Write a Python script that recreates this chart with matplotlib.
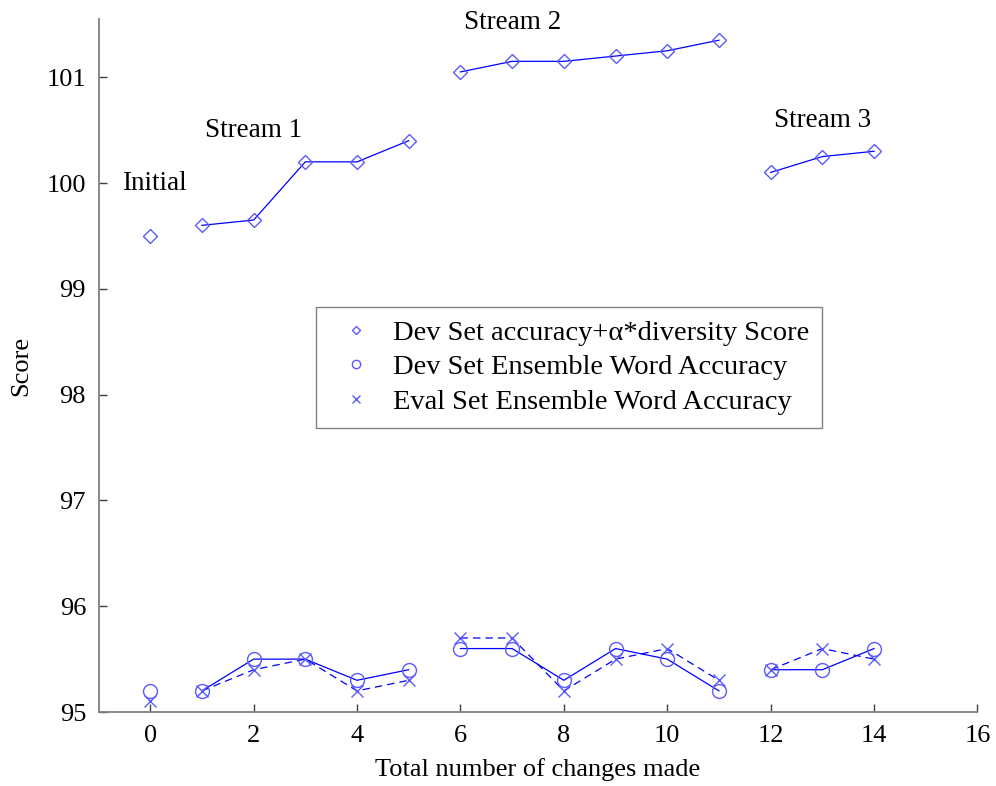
import numpy as np
import matplotlib
matplotlib.use("Agg")
import matplotlib.pyplot as plt

plt.rcParams['font.family'] = ['Liberation Serif', 'DejaVu Serif']

# data
changes = list(range(15))
dev_score = [99.5, 99.6, 99.65, 100.2, 100.2, 100.4,
             101.05, 101.15, 101.15, 101.2, 101.25, 101.35,
             100.1, 100.25, 100.3]
dev_acc = [95.2, 95.2, 95.5, 95.5, 95.3, 95.4,
           95.6, 95.6, 95.3, 95.6, 95.5, 95.2,
           95.4, 95.4, 95.6]
eval_acc = [95.1, 95.2, 95.4, 95.5, 95.2, 95.3,
            95.7, 95.7, 95.2, 95.5, 95.6, 95.3,
            95.4, 95.6, 95.5]
# which points are joined by a line
streams = [(0, 1), (1, 6), (6, 12), (12, 15)]
labels = ['Initial', 'Stream 1', 'Stream 2', 'Stream 3']
label_pos = [(0.08, 100.0), (2.0, 100.5), (7.0, 101.52), (13.0, 100.59)]

line_c = '#0000ff'
mark_c = '#5a5aff'

fig = plt.figure(figsize=(9.96, 7.86), dpi=100)
ax = fig.add_axes([0.0989, 0.0941, 0.8825, 0.8817])

x = np.array(changes)
for s, e in streams:
    ax.plot(x[s:e], dev_score[s:e], '-', color=line_c, lw=0.9)
    ax.plot(x[s:e], dev_acc[s:e], '-', color=line_c, lw=0.9)
    ax.plot(x[s:e], eval_acc[s:e], '--', color=line_c, lw=0.9, dashes=(6, 4))

ax.plot(x, dev_score, 'D', ms=7.5, mfc='none', mec=mark_c, mew=1.0, ls='none',
        label='Dev Set accuracy+\u03b1*diversity Score')
ax.plot(x, dev_acc, 'o', ms=10, mfc='none', mec=mark_c, mew=1.0, ls='none',
        label='Dev Set Ensemble Word Accuracy')
ax.plot(x, eval_acc, 'x', ms=9, mec=mark_c, mew=1.0, ls='none',
        label='Eval Set Ensemble Word Accuracy')

for t, (tx, ty) in zip(labels, label_pos):
    ax.text(tx, ty, t, ha='center', va='center', fontsize=19.5)

ax.set_xlim(-1, 16)
ax.set_ylim(95, 101.55)
ax.set_xticks(range(0, 17, 2))
ax.set_yticks(range(95, 102))
ax.spines['top'].set_visible(False)
ax.spines['right'].set_visible(False)
for sp in ['left', 'bottom']:
    ax.spines[sp].set_color('#808080')
    ax.spines[sp].set_linewidth(1.3)
ax.tick_params(direction='in', length=6, width=1, colors='#404040',
               labelcolor='black', labelsize=19, pad=9)
ax.set_xlabel('Total number of changes made', fontsize=19, labelpad=8)
ax.set_ylabel('Score', fontsize=19, labelpad=10)

leg = ax.legend(loc='upper left', bbox_to_anchor=(0.2474, 0.5844), borderaxespad=0,
                fontsize=20.5, frameon=True, fancybox=False, edgecolor='#606060',
                handlelength=1.9, handletextpad=0.35, borderpad=0.45,
                labelspacing=0.3, markerscale=0.6)
leg.get_frame().set_linewidth(1.0)

fig.savefig('out.png', dpi=100)
